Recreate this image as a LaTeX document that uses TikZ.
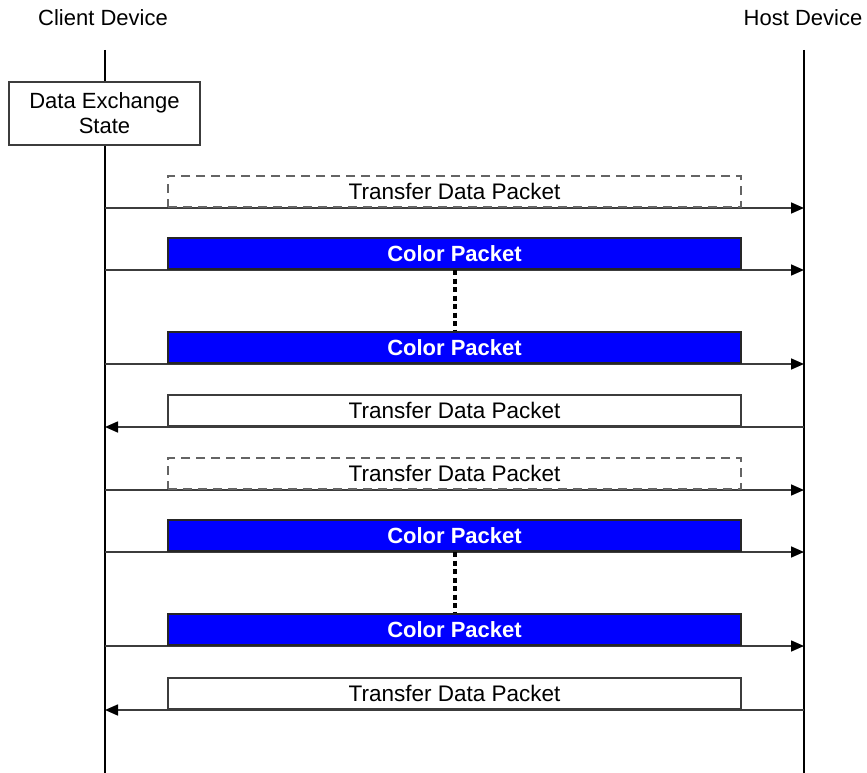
\documentclass[tikz,border=0pt]{standalone}
\usepackage{fontspec}
\setmainfont{Liberation Sans}
\usetikzlibrary{arrows.meta}
\definecolor{pblue}{RGB}{0,0,255}
\definecolor{edge}{RGB}{60,60,60}
\definecolor{dashgray}{RGB}{100,100,100}
\tikzset{
  life/.style={line width=1.5pt, black},
  msg/.style={line width=1.6pt, edge, -{Triangle[length=13pt,width=11pt,color=black]}},
  pkt/.style={draw=edge, line width=1.6pt, fill=white, minimum width=573pt, minimum height=31pt, inner sep=0pt, font=\fontsize{22.5}{25}\selectfont, anchor=south},
  dpkt/.style={pkt, draw=dashgray, line width=1.9pt, dash pattern=on 9pt off 6pt},
  cpkt/.style={pkt, draw=black!85, fill=pblue, text=white, font=\fontsize{22}{25}\selectfont\bfseries},
  dots/.style={line width=4pt, black, dash pattern=on 5pt off 3.5pt},
  lbl/.style={font=\fontsize{22}{25}\selectfont, inner sep=0pt},
}
\begin{document}
\begin{tikzpicture}[x=1pt,y=-1pt]
\useasboundingbox (0,0) rectangle (867,773);
% headers
\node[lbl] (client) at (103,18) {Client Device};
\node[lbl] (host) at (803,18) {Host Device};
% lifelines
\coordinate (ctop) at (105,50);
\coordinate (cbot) at (105,773);
\coordinate (htop) at (804,50);
\coordinate (hbot) at (804,773);
\draw[life] (ctop) -- (cbot);
\draw[life] (htop) -- (hbot);
% state box
\node[draw=edge, line width=1.6pt, fill=white, minimum width=191pt, minimum height=63pt, inner sep=0pt, align=center, font=\fontsize{22}{25}\selectfont] (state) at (104.5,113.5) {Data Exchange\\State};
% message rows: y of arrow
\foreach \i/\y in {1/208,2/270,3/364,4/427,5/490,6/552,7/646,8/710}{
  \coordinate (c\i) at (105,\y);
  \coordinate (h\i) at (804,\y);
}
\draw[msg] (c1) -- (h1);
\draw[msg] (c2) -- (h2);
\draw[msg] (c3) -- (h3);
\draw[msg] (h4) -- (c4);
\draw[msg] (c5) -- (h5);
\draw[msg] (c6) -- (h6);
\draw[msg] (c7) -- (h7);
\draw[msg] (h8) -- (c8);
% packets
\node[dpkt] (p1) at (454.5,208) {Transfer Data Packet};
\node[cpkt] (p2) at (454.5,270) {Color Packet};
\node[cpkt] (p3) at (454.5,364) {Color Packet};
\node[pkt]  (p4) at (454.5,427) {Transfer Data Packet};
\node[dpkt] (p5) at (454.5,490) {Transfer Data Packet};
\node[cpkt] (p6) at (454.5,552) {Color Packet};
\node[cpkt] (p7) at (454.5,646) {Color Packet};
\node[pkt]  (p8) at (454.5,710) {Transfer Data Packet};
% continuation dots
\draw[dots] (p2.south) -- (p3.north);
\draw[dots] (p6.south) -- (p7.north);
\end{tikzpicture}
\end{document}
